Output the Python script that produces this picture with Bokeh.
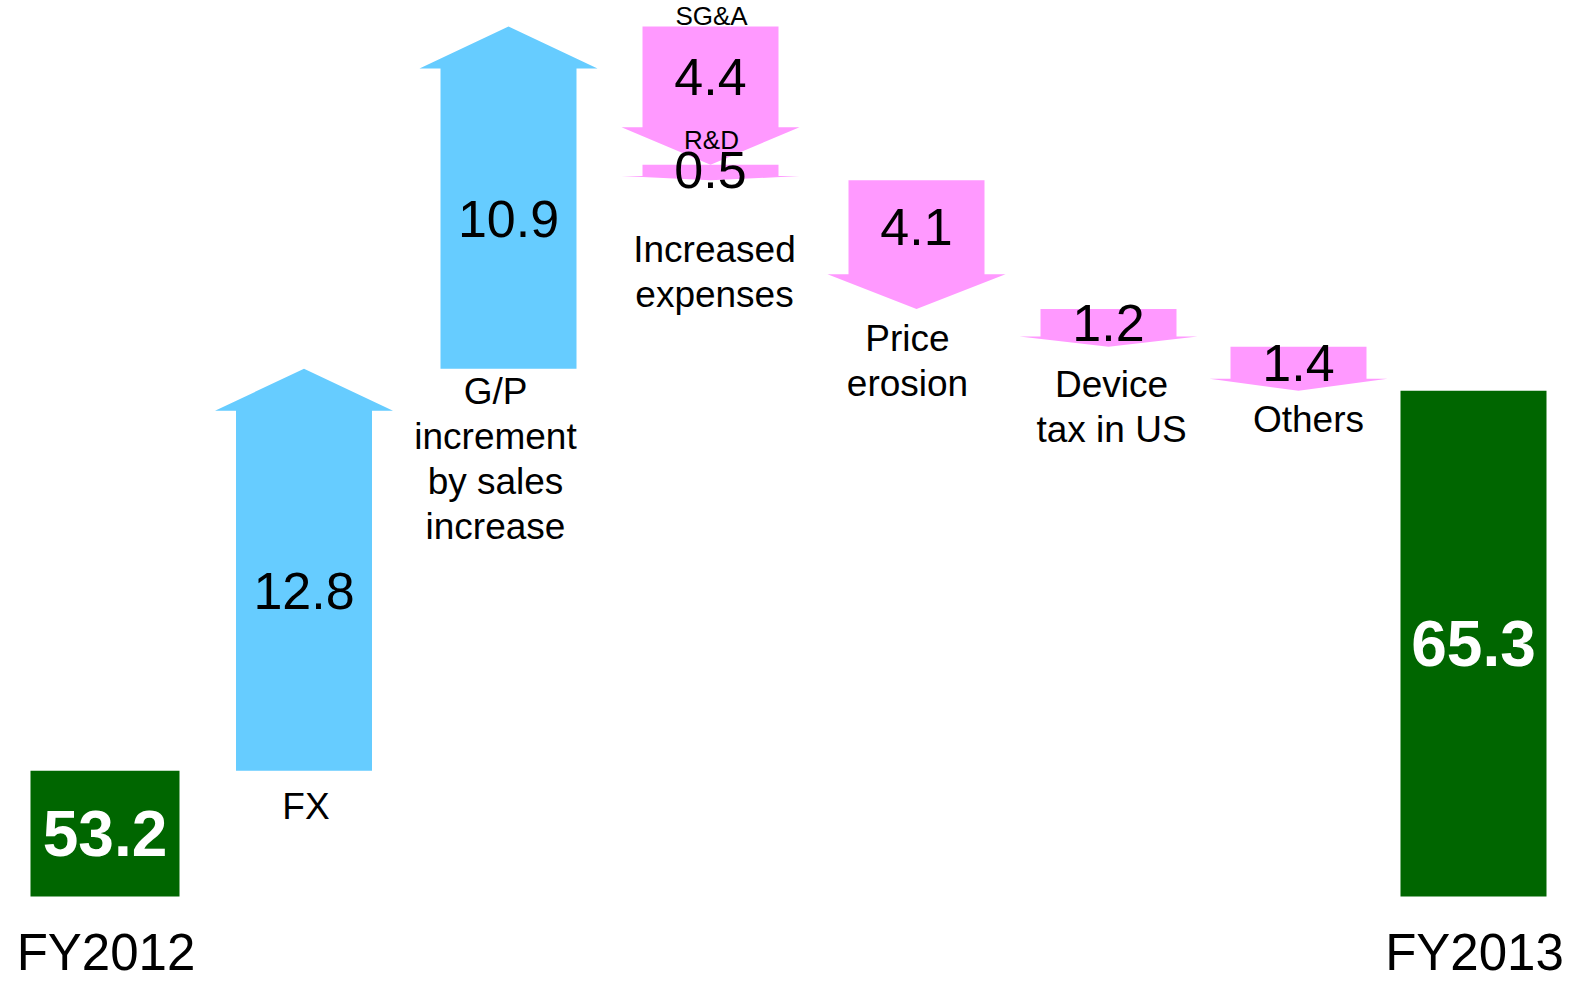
import numpy as np
from bokeh.plotting import figure
from bokeh.models import Range1d
from bokeh.core.properties import value
from bokeh.embed import file_html
from bokeh.resources import INLINE

# ---------------- data ----------------
total_labels = ["FY2012", "FY2013"]
total_values = [53.2, 65.3]

step_names = ["FX", "G/P", "SG&A", "R&D", "Price erosion", "Device tax", "Others"]
step_values = [12.8, 10.9, -4.4, -0.5, -4.1, -1.2, -1.4]

# category captions (lines) under each arrow; SG&A and R&D share one caption
caption_lines = [
    ["FX"],
    ["G/P", "increment", "by sales", "increase"],
    ["Increased", "expenses"],
    ["Price", "erosion"],
    ["Device", "tax in US"],
    ["Others"],
]
small_labels = ["SG&A", "R&D"]  # small tags over the expense arrows

# ---------------- layout ----------------
W, H = 1570, 984
PX_TOP = 26.0                        # page y of the highest cumulative value
SCALE = 31.4                         # pixels per unit
Y_HIGH = 76.9
Y_TOP = Y_HIGH + PX_TOP / SCALE
Y_BOT = Y_TOP - H / SCALE
BASE = Y_TOP - 896 / SCALE           # bottom of the total bars (broken axis)
PPU = H / (Y_TOP - Y_BOT)

total_x = [104.5, 1473]
total_w = [149, 146]
step_x = [303.5, 508, 710, 710, 916, 1108, 1298]
SHAFT_HALF, HEAD_HALF = 68, 89
HEAD_MAX_PX, HEAD_FRAC = 42, 0.27

# caption: (arrow index it hangs under, x offset px, y offset px of first line)
caption_anchor = [(0, 2, 36), (1, -13, 23), (3, 4, 69), (4, -9, 29), (5, 3, 38), (6, 10, 29)]
LINE_PX = 45

GREEN, BLUE, PINK = "#006600", "#66CCFF", "#FF99FF"
FONT = value("Liberation Sans")

def px(v):
    return v / PPU

p = figure(width=W, height=H, output_backend="svg", toolbar_location=None,
           x_range=Range1d(0, W), y_range=Range1d(Y_BOT, Y_TOP),
           x_axis_type=None, y_axis_type=None, min_border=0)
p.grid.visible = False
p.outline_line_color = None
p.background_fill_color = "white"
p.border_fill_color = "white"

# totals
p.vbar(x=total_x, top=total_values, bottom=BASE, width=total_w,
       fill_color=GREEN, line_color=None)
p.text(x=total_x, y=[(BASE + t) / 2 for t in total_values],
       text=[f"{t:.1f}" for t in total_values], text_color="white",
       text_font=FONT, text_font_style="bold", text_font_size="64px",
       text_align="center", text_baseline="middle")
p.text(x=[x + 1 for x in total_x], y=[BASE - px(56)] * 2, text=total_labels,
       text_color="black", text_font=FONT, text_font_size="51px",
       text_align="center", text_baseline="middle")

# arrows
cum = np.concatenate([[total_values[0]], total_values[0] + np.cumsum(step_values)])
starts, ends = cum[:-1], cum[1:]
xs, ys, cols, lab_x, lab_y, lab_t = [], [], [], [], [], []
for cx, s, e, d in zip(step_x, starts, ends, step_values):
    L_px = abs(d) * PPU
    h = np.sign(d) * px(min(HEAD_FRAC * L_px, HEAD_MAX_PX))
    b = e - h
    xs.append([cx - SHAFT_HALF, cx + SHAFT_HALF, cx + SHAFT_HALF, cx + HEAD_HALF, cx,
               cx - HEAD_HALF, cx - SHAFT_HALF])
    ys.append([s, s, b, b, e, b, b])
    cols.append(BLUE if d > 0 else PINK)
    lab_x.append(cx)
    lab_y.append((s + b) / 2)
    lab_t.append(f"{abs(d):.1f}")
p.patches(xs=xs, ys=ys, fill_color=cols, line_color=None)
p.text(x=lab_x, y=lab_y, text=lab_t, text_color="black", text_font=FONT,
       text_font_size="52px", text_align="center", text_baseline="middle")

# small tags above SG&A / R&D arrows
tag_off = [11, 25]
for i, (lbl, off) in enumerate(zip(small_labels, tag_off)):
    k = 2 + i
    p.text(x=[step_x[k] + 1], y=[starts[k] + px(off)], text=[lbl], text_color="black",
           text_font=FONT, text_font_size="26px", text_align="center",
           text_baseline="middle")

# captions
cx_list, cy_list, ct_list = [], [], []
for lines, (k, dx, dy) in zip(caption_lines, caption_anchor):
    low = min(starts[k], ends[k])
    for j, ln in enumerate(lines):
        cx_list.append(step_x[k] + dx)
        cy_list.append(low - px(dy + j * LINE_PX))
        ct_list.append(ln)
p.text(x=cx_list, y=cy_list, text=ct_list, text_color="black", text_font=FONT,
       text_font_size="37px", text_align="center", text_baseline="middle")

open("out.html", "w").write(file_html(p, INLINE))
